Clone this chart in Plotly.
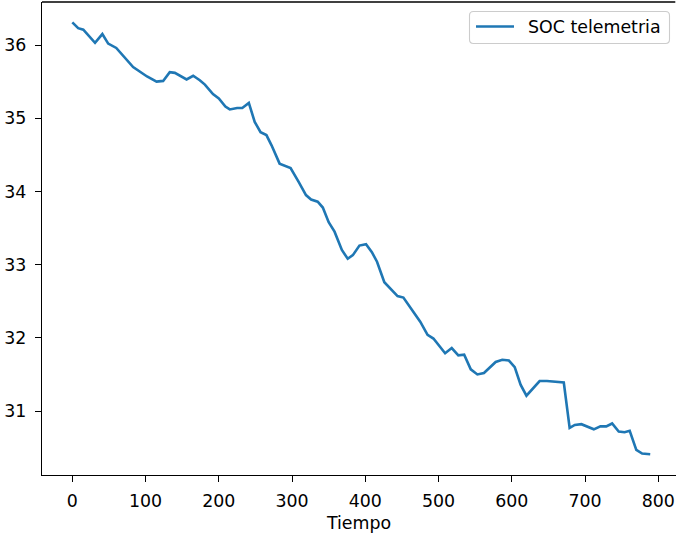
import plotly.graph_objects as go

# Telemetry samples: elapsed time and state of charge
tiempo = [0, 8, 15, 31, 41, 49, 60, 83, 102, 115, 124, 133, 140, 156, 165, 174,
          181, 192, 200, 209, 215, 225, 232, 241, 249, 257, 265, 272, 283, 298,
          309, 319, 326, 335, 342, 350, 358, 368, 376, 383, 392, 401, 409, 416,
          426, 436, 444, 452, 475, 485, 493, 509, 518, 527, 535, 544, 553, 562,
          578, 587, 596, 604, 612, 620, 630, 638, 648, 671, 679, 686, 695, 703,
          712, 721, 729, 737, 746, 754, 761, 770, 778, 789]
soc = [36.31, 36.23, 36.21, 36.03, 36.15, 36.02, 35.96, 35.70, 35.57, 35.50,
       35.51, 35.63, 35.62, 35.53, 35.58, 35.52, 35.46, 35.33, 35.27, 35.16,
       35.12, 35.14, 35.14, 35.21, 34.95, 34.81, 34.77, 34.63, 34.38, 34.32,
       34.13, 33.95, 33.89, 33.86, 33.78, 33.58, 33.45, 33.20, 33.08, 33.13,
       33.26, 33.28, 33.17, 33.04, 32.76, 32.66, 32.57, 32.55, 32.22, 32.04,
       31.99, 31.79, 31.86, 31.76, 31.77, 31.57, 31.50, 31.52, 31.67, 31.70,
       31.69, 31.60, 31.36, 31.21, 31.32, 31.41, 31.41, 31.39, 30.77, 30.81,
       30.82, 30.79, 30.75, 30.79, 30.79, 30.83, 30.72, 30.71, 30.73, 30.47,
       30.42, 30.41]

x_ticks = [0, 100, 200, 300, 400, 500, 600, 700, 800]
y_ticks = [31, 32, 33, 34, 35, 36]
serie = "SOC telemetria"

FONT = "DejaVu Sans"
FS = 17.4
BLUE = "#1f77b4"

W, H = 676, 533
ML, MR, MT, MB = 42, 0, 2, 58
PW, PH = W - ML - MR, H - MT - MB


def px(x):
    """pixel column -> paper x"""
    return (x - ML) / PW


def py(y):
    """pixel row -> paper y"""
    return (H - MB - y) / PH


fig = go.Figure()
fig.add_trace(go.Scatter(
    x=tiempo, y=soc, mode="lines", name=serie,
    line=dict(color=BLUE, width=2.6), showlegend=False,
))

axis_common = dict(
    showgrid=False, zeroline=False,
    showline=True, linecolor="black", linewidth=1.4, mirror=False,
    ticks="outside", ticklen=6, tickwidth=1.4, tickcolor="black",
    tickfont=dict(family=FONT, size=FS, color="black"),
)

# top frame edge, stopping just short of the page border
shapes = [dict(type="line", xref="paper", yref="paper",
               x0=0, x1=px(675.3), y0=1, y1=1,
               line=dict(color="black", width=1.4), layer="above")]

# legend frame with rounded corners
lx0, lx1, ly0, ly1, r = 469.5, 669.5, 11.5, 43.5, 4


def rrect(x0, x1, y0, y1, r):
    pts = [
        f"M{px(x0 + r)},{py(y0)}",
        f"L{px(x1 - r)},{py(y0)}",
        f"Q{px(x1)},{py(y0)} {px(x1)},{py(y0 + r)}",
        f"L{px(x1)},{py(y1 - r)}",
        f"Q{px(x1)},{py(y1)} {px(x1 - r)},{py(y1)}",
        f"L{px(x0 + r)},{py(y1)}",
        f"Q{px(x0)},{py(y1)} {px(x0)},{py(y1 - r)}",
        f"L{px(x0)},{py(y0 + r)}",
        f"Q{px(x0)},{py(y0)} {px(x0 + r)},{py(y0)}",
        "Z",
    ]
    return " ".join(pts)


shapes.append(dict(type="path", xref="paper", yref="paper",
                   path=rrect(lx0, lx1, ly0, ly1, r),
                   fillcolor="rgba(255,255,255,0.8)",
                   line=dict(color="#cccccc", width=1.1), layer="above"))
shapes.append(dict(type="line", xref="paper", yref="paper",
                   x0=px(476), x1=px(514), y0=py(26.5), y1=py(26.5),
                   line=dict(color=BLUE, width=2.6), layer="above"))

annotations = [dict(
    text=serie, xref="paper", yref="paper", x=px(526), y=py(27),
    xanchor="left", yanchor="middle", showarrow=False,
    font=dict(family=FONT, size=FS, color="black"),
)]

fig.update_layout(
    width=W, height=H,
    margin=dict(l=ML, r=MR, t=MT, b=MB, pad=0),
    paper_bgcolor="white", plot_bgcolor="white",
    xaxis=dict(
        range=[-41.4, 824.2], tickvals=x_ticks,
        title=dict(text="Tiempo", font=dict(family=FONT, size=FS, color="black"), standoff=8),
        ticklabelstandoff=4,
        **axis_common,
    ),
    yaxis=dict(
        range=[30.126, 36.588], tickvals=y_ticks,
        ticklabelstandoff=5,
        **axis_common,
    ),
    showlegend=False,
    shapes=shapes,
    annotations=annotations,
)

fig.write_html("out.html")
